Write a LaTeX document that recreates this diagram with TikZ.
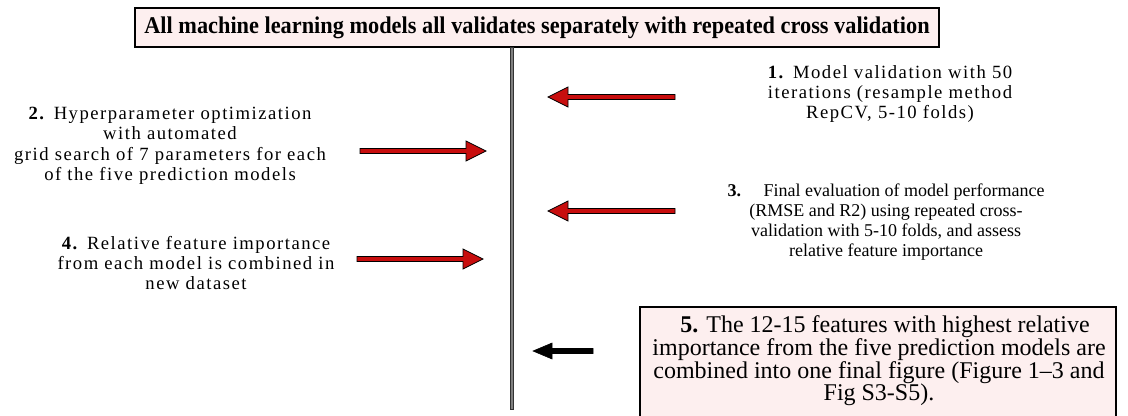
\documentclass[tikz,border=0pt]{standalone}
\usepackage{fontspec}
\setmainfont{Liberation Serif}
\newfontfamily\spaced[LetterSpace=8]{Liberation Serif}
\newfontfamily\condbold[FakeStretch=0.93]{Liberation Serif Bold}
\definecolor{boxpink}{HTML}{FDEFEF}
\definecolor{arrowred}{HTML}{C80E0E}
\definecolor{railgray}{HTML}{808080}
\tikzset{
  pinkbox/.style={draw=black, line width=0.8pt, fill=boxpink},
  steptext/.style={align=center, inner sep=0pt, font=\fontsize{14}{15.3}\spaced},
  redarrow/.style={draw=black, line width=0.6pt, fill=arrowred},
  blackarrow/.style={draw=black, line width=0.4pt, fill=black},
}
\begin{document}
\begin{tikzpicture}[x=0.75pt, y=-0.75pt]
\useasboundingbox (0,0) rectangle (1128,415);
\clip (0,0) rectangle (1128,415);
% title
\node[pinkbox, minimum width=804*0.75pt, minimum height=39*0.75pt, inner sep=0pt,
  font=\fontsize{18}{20}\condbold] (title) at (537,27.5)
  {All machine learning models all validates separately with repeated cross validation};
% vertical rail
\draw[draw=black!80, line width=0.4pt, fill=railgray] (510.5,47) rectangle (513.5,409);
% step texts
\node[steptext] (t1) at (890,94)
  {\textbf{1.} Model validation with 50\\iterations (resample method\\RepCV, 5-10 folds)};
\node[steptext] (t2) at (170,146)
  {\textbf{2.} Hyperparameter optimization\\with automated\\grid search of 7 parameters for each\\of the five prediction models};
\node[steptext, font=\fontsize{13.5}{15}\selectfont] (t3) at (886,222)
  {\textbf{3.}\quad\ Final evaluation of model performance\\(RMSE and R2) using repeated cross-\\validation with 5-10 folds, and assess\\relative feature importance};
\node[steptext] (t4) at (196,263)
  {\textbf{4.} Relative feature importance\\from each model is combined in\\new dataset};
% box 5
\draw[pinkbox] (640,307) rectangle (1116,430);
\node[align=center, inner sep=0pt, font=\fontsize{18}{17}\selectfont] (t5) at (879,361)
  {\ \ \textbf{5.} The 12-15 features with highest relative\\importance from the five prediction models are\\ combined into one final figure (Figure 1--3 and\\Fig S3-S5).};
% arrows
\coordinate (a1) at (675,97);
\coordinate (a2) at (360,151);
\coordinate (a3) at (675,211);
\coordinate (a4) at (357,259);
\coordinate (a5) at (593,351);
\draw[redarrow] (a1) ++(0,-2.5) -- ++(-107,0) -- ++(0,-7.5) -- ++(-20,10) -- ++(20,10) -- ++(0,-7.5) -- ++(107,0) -- cycle;
\draw[redarrow] (a2) ++(0,-2.5) -- ++(106,0) -- ++(0,-7.5) -- ++(20,10) -- ++(-20,10) -- ++(0,-7.5) -- ++(-106,0) -- cycle;
\draw[redarrow] (a3) ++(0,-2.5) -- ++(-107,0) -- ++(0,-7.5) -- ++(-20,10) -- ++(20,10) -- ++(0,-7.5) -- ++(107,0) -- cycle;
\draw[redarrow] (a4) ++(0,-2.5) -- ++(106,0) -- ++(0,-7.5) -- ++(20,10) -- ++(-20,10) -- ++(0,-7.5) -- ++(-106,0) -- cycle;
\draw[blackarrow] (a5) ++(0,-2.5) -- ++(-41,0) -- ++(0,-5.5) -- ++(-19,8) -- ++(19,8) -- ++(0,-5.5) -- ++(41,0) -- cycle;
\end{tikzpicture}
\end{document}
